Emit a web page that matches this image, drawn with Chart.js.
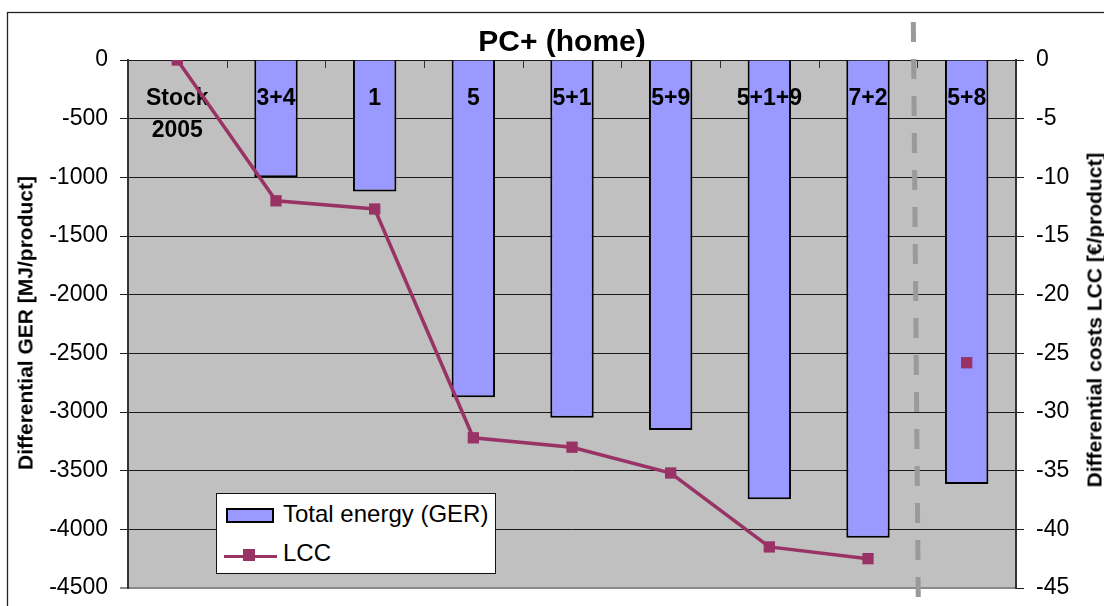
<!DOCTYPE html>
<html>
<head>
<meta charset="utf-8">
<script src="https://cdn.jsdelivr.net/npm/chart.js@4/dist/chart.umd.min.js"></script>
<style>
  html, body { margin: 0; padding: 0; background: #fff; }
  #wrap { position: relative; width: 1104px; height: 606px; overflow: hidden; font-family: "Liberation Sans", Arial, sans-serif; }
  canvas { position: absolute; left: 0; top: 0; }
  .txt { position: absolute; white-space: nowrap; line-height: 1; color: #000; }
  #legend { position: absolute; left: 216px; top: 493px; width: 280px; height: 81px; border: 1px solid #111; background: #fff; box-sizing: border-box; }
  #legend div { position: absolute; }
</style>
</head>
<body>
<div id="wrap">
  <canvas id="c" width="1104" height="606"></canvas>
  <div id="title" class="txt" style="left:562px; top:25.6px; font-size:30px; font-weight:bold; transform:translateX(-50%);"></div>
  <div id="yTitleL" class="txt" style="left:25px; top:323px; font-size:21px; font-weight:bold; transform:translate(-50%,-50%) rotate(-90deg);"></div>
  <div id="yTitleR" class="txt" style="left:1094px; top:320px; font-size:21px; font-weight:bold; transform:translate(-50%,-50%) rotate(-90deg);"></div>
  <div id="legend"></div>
</div>
<script>
// ---- data ----
const categories = [['Stock', '2005'], '3+4', '1', '5', '5+1', '5+9', '5+1+9', '7+2', '5+8'];
const gerValues = [0, -1000, -1120, -2875, -3048, -3153, -3744, -4071, -3614];
const lccValues = [0, -12.0, -12.7, -32.2, -33.0, -35.2, -41.5, -42.5, -25.8];
const gerTicks = [0, -500, -1000, -1500, -2000, -2500, -3000, -3500, -4000, -4500];
const lccTicks = [0, -5, -10, -15, -20, -25, -30, -35, -40, -45];
const seriesNames = ['Total energy (GER)', 'LCC'];
const chartTitle = 'PC+ (home)';
const leftAxisTitle = 'Differential GER [MJ/product]';
const rightAxisTitle = 'Differential costs LCC [€/product]';
const separateCategory = '5+8';

// ---- styles ----
const barColor = '#9999FF';
const lineColor = '#993366';
const sepIndex = categories.indexOf(separateCategory);
const FONT = '"Liberation Sans", Arial, sans-serif';

document.getElementById('title').textContent = chartTitle;
document.getElementById('yTitleL').textContent = leftAxisTitle;
document.getElementById('yTitleR').textContent = rightAxisTitle;

const plotPlugin = {
  id: 'plotDecor',
  beforeDraw(chart) {
    const { ctx, chartArea: a } = chart;
    ctx.save();
    ctx.fillStyle = '#C0C0C0';
    ctx.fillRect(a.left, a.top, a.right - a.left, a.bottom - a.top);
    ctx.strokeStyle = '#222';
    ctx.lineWidth = 1.3;
    ctx.strokeRect(7.5, 12.5, 1400, 900);
    ctx.restore();
  },
  beforeDatasetsDraw(chart) {
    const { ctx, chartArea: a, scales } = chart;
    const x = scales.x;
    ctx.save();
    ctx.strokeStyle = '#333';
    ctx.lineWidth = 1;
    for (let i = 1; i < categories.length; i++) {
      const px = Math.round((x.getPixelForValue(i - 1) + x.getPixelForValue(i)) / 2) + 0.5;
      ctx.beginPath();
      ctx.moveTo(px, a.top);
      ctx.lineTo(px, a.top + 8);
      ctx.stroke();
    }
    ctx.restore();
  },
  afterDatasetDraw(chart, args) {
    if (args.index !== 0) return;
    const { ctx, chartArea: a, scales } = chart;
    const x = scales.x;
    ctx.save();
    ctx.font = 'bold 23px ' + FONT;
    ctx.fillStyle = '#000';
    ctx.textAlign = 'center';
    ctx.textBaseline = 'alphabetic';
    categories.forEach((c, i) => {
      const lines = Array.isArray(c) ? c : [c];
      const px = x.getPixelForValue(i);
      lines.forEach((t, j) => ctx.fillText(t, px, a.top + 45 + j * 32));
    });
    ctx.restore();
  },
  afterDraw(chart) {
    const { ctx, scales } = chart;
    const x = scales.x;
    const mid = (x.getPixelForValue(sepIndex - 1) + x.getPixelForValue(sepIndex)) / 2;
    ctx.save();
    ctx.strokeStyle = '#9a9a9a';
    ctx.lineWidth = 5;
    ctx.setLineDash([20, 17]);
    ctx.beginPath();
    ctx.moveTo(mid - 4, 22);
    ctx.lineTo(mid + 1, 606);
    ctx.stroke();
    ctx.restore();
  }
};

function fitY(width) {
  return function (s) {
    s.width = width;
    s.paddingTop = 0;
    s.paddingBottom = 0;
  };
}

const chart = new Chart(document.getElementById('c'), {
  type: 'bar',
  data: {
    labels: categories,
    datasets: [
      {
        type: 'bar',
        label: seriesNames[0],
        data: gerValues,
        yAxisID: 'yL',
        backgroundColor: barColor,
        borderColor: '#000',
        borderWidth: (ctx) => (ctx.raw === 0 ? 0 : 2),
        borderSkipped: 'start',
        categoryPercentage: 1,
        barPercentage: 0.44,
        order: 1
      },
      {
        type: 'line',
        label: seriesNames[1],
        data: lccValues,
        yAxisID: 'yR',
        borderColor: lineColor,
        backgroundColor: lineColor,
        borderWidth: 3.5,
        pointStyle: 'rect',
        pointRadius: 8,
        pointBorderWidth: 0,
        pointBackgroundColor: lineColor,
        tension: 0,
        segment: {
          borderColor: (ctx) => (ctx.p1DataIndex >= sepIndex ? 'rgba(0,0,0,0)' : lineColor)
        },
        order: 0
      }
    ]
  },
  options: {
    responsive: false,
    animation: false,
    devicePixelRatio: 1,
    layout: { padding: { top: 60, bottom: 18, left: 0, right: 0 } },
    plugins: { legend: { display: false }, title: { display: false }, tooltip: { enabled: false } },
    scales: {
      x: { display: false, offset: true },
      yL: {
        position: 'left',
        min: -4500, max: 0,
        afterFit: fitY(128),
        afterBuildTicks(s) { s.ticks = gerTicks.map(v => ({ value: v })); },
        ticks: { font: { family: FONT, size: 23 }, color: '#000', padding: 12, callback: v => String(v) },
        grid: {
          color: (ctx) => (ctx.tick && ctx.tick.value === -4500 ? '#8a8a8a' : '#1a1a1a'),
          lineWidth: (ctx) => (ctx.tick && ctx.tick.value === -4500 ? 2 : 1),
          tickLength: 8, drawTicks: true
        },
        border: { display: true, color: '#333', width: 2 }
      },
      yR: {
        position: 'right',
        min: -45, max: 0,
        afterFit: fitY(88),
        afterBuildTicks(s) { s.ticks = lccTicks.map(v => ({ value: v })); },
        ticks: { font: { family: FONT, size: 23 }, color: '#000', padding: 12, callback: v => String(v) },
        grid: { drawOnChartArea: false, color: '#1a1a1a', tickLength: 8 },
        border: { display: true, color: '#333', width: 2 }
      }
    }
  },
  plugins: [plotPlugin]
});

// ---- legend (HTML, built from the chart's datasets) ----
(function buildLegend() {
  const lg = document.getElementById('legend');
  const ds = chart.data.datasets;
  const sw = document.createElement('div');
  sw.style.cssText = 'left:9px;top:14px;width:48px;height:15px;box-sizing:border-box;border:2px solid #000;background:' + ds[0].backgroundColor + ';';
  lg.appendChild(sw);
  const t1 = document.createElement('div');
  t1.className = 'txt';
  t1.style.cssText = 'left:66px;top:7.7px;font-size:24px;line-height:1;white-space:nowrap;';
  t1.textContent = ds[0].label;
  lg.appendChild(t1);
  const ln = document.createElement('div');
  ln.style.cssText = 'left:7px;top:60.5px;width:53px;height:3.5px;background:' + ds[1].borderColor + ';';
  lg.appendChild(ln);
  const mk = document.createElement('div');
  mk.style.cssText = 'left:26px;top:55px;width:12px;height:12px;background:' + ds[1].borderColor + ';';
  lg.appendChild(mk);
  const t2 = document.createElement('div');
  t2.className = 'txt';
  t2.style.cssText = 'left:66px;top:47.4px;font-size:24px;line-height:1;white-space:nowrap;';
  t2.textContent = ds[1].label;
  lg.appendChild(t2);
})();
</script>
</body>
</html>
